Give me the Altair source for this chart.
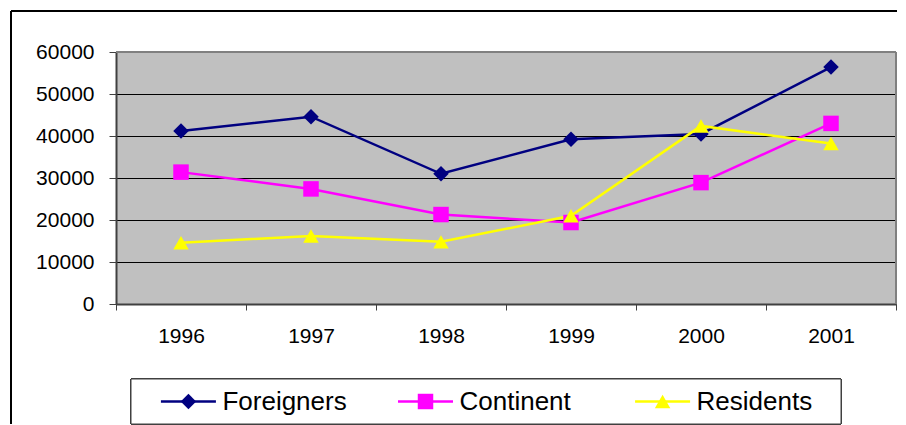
import altair as alt
import pandas as pd

years = ["1996", "1997", "1998", "1999", "2000", "2001"]
series = ["Foreigners", "Continent", "Residents"]
foreigners = [41200, 44600, 31000, 39200, 40500, 56400]
continent = [31400, 27400, 21300, 19400, 28900, 43000]
residents = [14600, 16200, 14800, 21000, 42400, 38200]
colors = ["#000080", "#FF00FF", "#FFFF00"]
shapes = ["diamond", "square", "triangle-up"]
y_ticks = [0, 10000, 20000, 30000, 40000, 50000, 60000]

FONT = "Liberation Sans"

rows = []
for name, vals in zip(series, [foreigners, continent, residents]):
    for yr, v in zip(years, vals):
        rows.append({"year": yr, "series": name, "value": v})
df = pd.DataFrame(rows)
leg_df = pd.DataFrame({"series": series})

color = alt.Color("series:N", scale=alt.Scale(domain=series, range=colors), legend=None)
shape = alt.Shape("series:N", scale=alt.Scale(domain=series, range=shapes), legend=None)

x_enc = alt.X(
    "year:O",
    sort=years,
    scale=alt.Scale(paddingInner=0, paddingOuter=0),
    axis=alt.Axis(
        title=None, labelAngle=0, tickBand="extent", tickSize=6,
        tickColor="#404040", domainColor="#404040", domainWidth=2,
        labelFont=FONT, labelFontSize=21, labelColor="black", labelPadding=15,
        grid=False,
    ),
)
y_enc = alt.Y(
    "value:Q",
    scale=alt.Scale(domain=[0, 60000], nice=False),
    axis=alt.Axis(
        title=None, values=y_ticks, format="d", grid=True, gridColor="black",
        gridWidth=1, gridOpacity=1, tickSize=7, tickColor="#404040",
        domainColor="#404040", domainWidth=2, labelFont=FONT, labelFontSize=21,
        labelColor="black", labelPadding=15,
    ),
)

base = alt.Chart(df)

border_top = base.mark_rule(color="#808080", strokeWidth=2).encode(y=alt.value(0))
border_right = base.mark_rule(color="#808080", strokeWidth=2).encode(x=alt.value(780))
frame_top = base.mark_rule(color="black", strokeWidth=1).encode(
    x=alt.value(-105), x2=alt.value(781), y=alt.value(-41))
frame_left = base.mark_rule(color="black", strokeWidth=1).encode(
    x=alt.value(-105), y=alt.value(-41), y2=alt.value(372))

lines = base.mark_line(strokeWidth=2.5).encode(x=x_enc, y=y_enc, color=color)
points = base.mark_point(filled=True, size=240, opacity=1).encode(
    x=x_enc, y=y_enc, color=color, shape=shape)

legend_box = base.mark_rect(fill="white", stroke="#404040", strokeWidth=1).encode(
    x=alt.value(15), x2=alt.value(725), y=alt.value(327), y2=alt.value(372))

main = alt.layer(border_top, border_right, frame_top, frame_left, lines, points, legend_box)

lx = alt.X("series:N", sort=series,
           scale=alt.Scale(type="point", domain=series, padding=0.645), axis=None)
leg_base = alt.Chart(leg_df)
leg_rule = leg_base.mark_rule(strokeWidth=2.5, xOffset=-108, x2Offset=-53).encode(
    x=lx, x2="series:N", y=alt.value(349.5), color=color)
leg_point = leg_base.mark_point(filled=True, size=240, opacity=1, xOffset=-80.5).encode(
    x=lx, y=alt.value(349.5), color=color, shape=shape)
leg_text = leg_base.mark_text(align="left", baseline="middle", fontSize=26, font=FONT,
                              color="black", xOffset=-46.5).encode(
    x=lx, y=alt.value(350), text="series:N")
legend = alt.layer(leg_rule, leg_point, leg_text)

chart = alt.layer(main, legend).resolve_scale(x="independent").properties(
    width=780, height=252,
    padding={"left": 2, "top": 2, "right": 0, "bottom": 0},
    background="white",
).configure_view(fill="#C0C0C0", stroke=None)

chart.save("out.html", embed_options={"renderer": "svg", "actions": False})
